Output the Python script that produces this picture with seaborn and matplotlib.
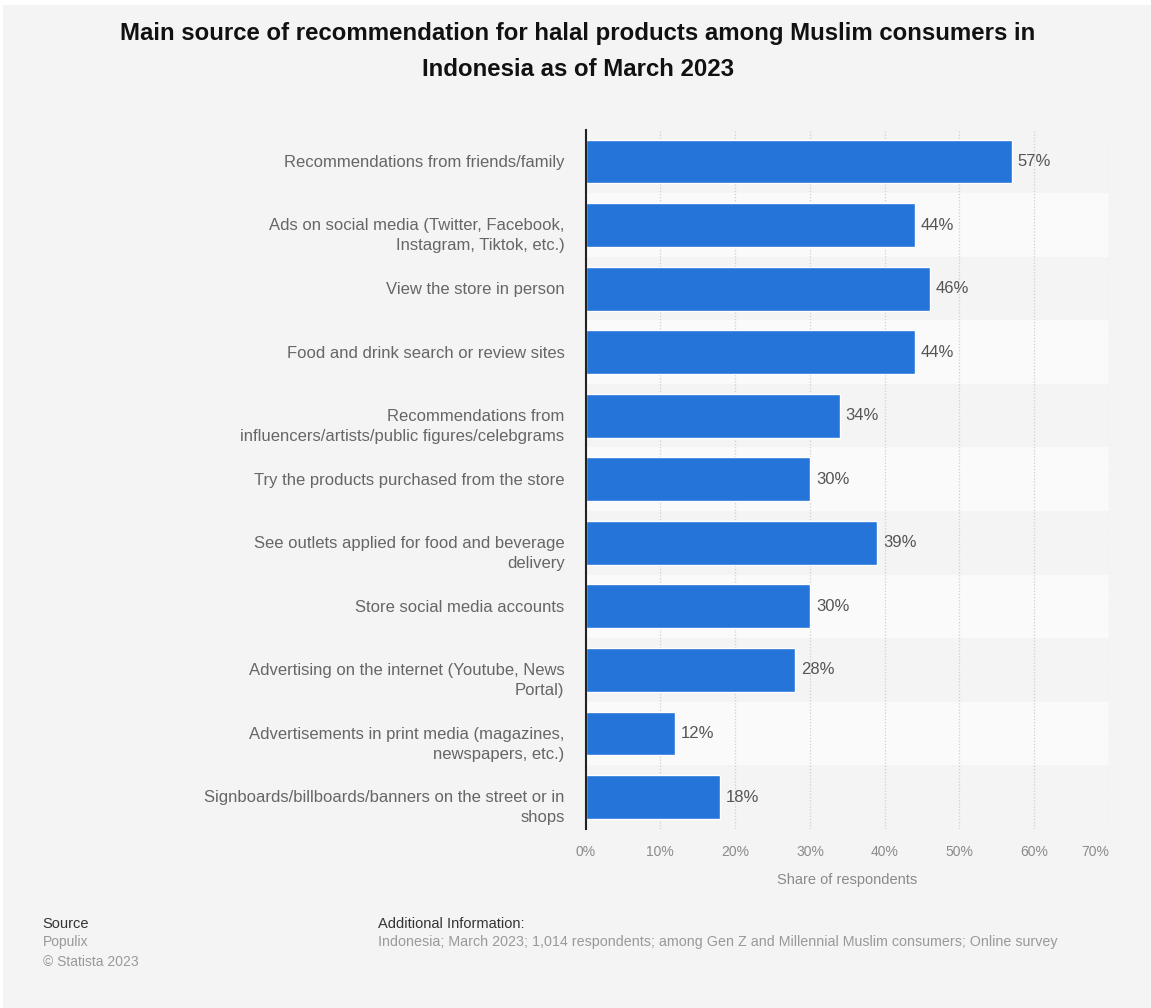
import matplotlib
matplotlib.use("Agg")
import matplotlib.pyplot as plt
import seaborn as sns
import pandas as pd
from matplotlib.patches import Rectangle

categories = [
    "Recommendations from friends/family",
    "Ads on social media (Twitter, Facebook,\nInstagram, Tiktok, etc.)",
    "View the store in person",
    "Food and drink search or review sites",
    "Recommendations from\ninfluencers/artists/public figures/celebgrams",
    "Try the products purchased from the store",
    "See outlets applied for food and beverage\ndelivery",
    "Store social media accounts",
    "Advertising on the internet (Youtube, News\nPortal)",
    "Advertisements in print media (magazines,\nnewspapers, etc.)",
    "Signboards/billboards/banners on the street or in\nshops",
]
values = [57, 44, 46, 44, 34, 30, 39, 30, 28, 12, 18]
tick_values = [0, 10, 20, 30, 40, 50, 60, 70]
tick_labels = ["0%", "10%", "20%", "30%", "40%", "50%", "60%", "70%"]

df = pd.DataFrame({"category": categories, "value": values})

sns.set_theme(style="white")
plt.rcParams["font.family"] = ["Liberation Sans", "DejaVu Sans"]

BG = "#f4f4f4"
fig = plt.figure(figsize=(11.51, 10.08), dpi=100, facecolor="white")
fig.patches.append(Rectangle((0.003, 0.0), 0.997, 0.995, transform=fig.transFigure,
                             facecolor=BG, edgecolor="none", zorder=-10))

ax = fig.add_axes([0.5087, 0.1778, 0.4548, 0.6935])
ax.set_facecolor(BG)

# alternating stripes
for i in range(len(categories)):
    if i % 2 == 1:
        ax.axhspan(i - 0.5, i + 0.5, color="#fafafa", zorder=0, lw=0)

sns.barplot(data=df, x="value", y="category", orient="h", color="#2574d9",
            saturation=1, width=0.69, ax=ax, zorder=3)

ax.set_xlim(0, 70)
ax.set_ylim(len(categories) - 0.5, -0.5)
ax.set_xticks(tick_values)
ax.set_xticklabels(tick_labels, fontsize=10, color="#8a8a8a")
ax.get_xticklabels()[-1].set_ha("right")
for t in ax.get_xticklabels()[:-1]:
    t.set_ha("center")
ax.tick_params(axis="x", length=0, pad=12)
ax.tick_params(axis="y", length=0, labelleft=False)
ax.set_ylabel("")
ax.set_xlabel("Share of respondents", fontsize=10.5, color="#8a8a8a", labelpad=10)

# category labels (multi-line labels hang slightly below the bar centre, as in the original)
ytrans = ax.get_yaxis_transform()
for i, lab in enumerate(categories):
    off = 0.17 if "\n" in lab else 0.02
    ax.text(-0.040, i + off, lab, transform=ytrans, ha="right", va="center",
            fontsize=12.0, color="#666666", linespacing=1.4, multialignment="right")

for x in tick_values[1:]:
    ax.axvline(x, color="#cfcfcf", lw=0.9, ls=(0, (1, 1.5)), zorder=1)

for s in ["top", "right", "bottom"]:
    ax.spines[s].set_visible(False)
ax.spines["left"].set_color("#222222")
ax.spines["left"].set_linewidth(1.5)
ax.spines["left"].set_zorder(5)

for i, v in enumerate(values):
    ax.text(v + 0.8, i, f"{v}%", va="center", ha="left", fontsize=12, color="#555555", zorder=4)

fig.text(0.502, 0.978, "Main source of recommendation for halal products among Muslim consumers in\nIndonesia as of March 2023",
         ha="center", va="top", fontsize=17.3, fontweight="bold", color="#111111", linespacing=1.72)

fig.text(0.037, 0.083, "Source", fontsize=10.5, color="#333333", va="center")
fig.text(0.037, 0.065, "Populix", fontsize=10, color="#999999", va="center")
fig.text(0.037, 0.046, "© Statista 2023", fontsize=10, color="#999999", va="center")
fig.text(0.328, 0.083, "Additional Information:", fontsize=10.5, color="#333333", va="center")
fig.text(0.328, 0.065, "Indonesia; March 2023; 1,014 respondents; among Gen Z and Millennial Muslim consumers; Online survey",
         fontsize=10.3, color="#999999", va="center")

fig.savefig("out.png", dpi=100, facecolor="white")
